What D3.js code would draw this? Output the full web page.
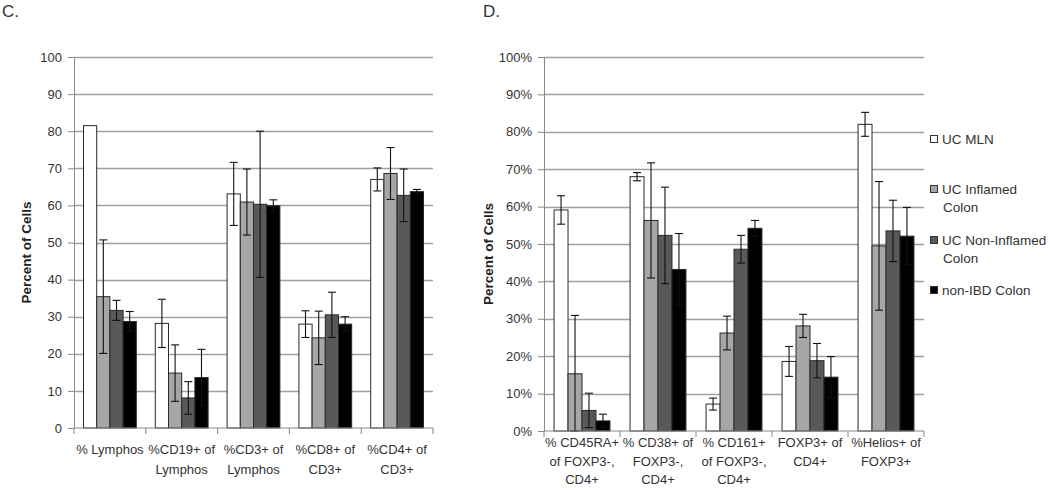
<!DOCTYPE html>
<html>
<head>
<meta charset="utf-8">
<script src="https://cdn.jsdelivr.net/npm/d3@7"></script>
<style>
  body { margin: 0; background: #fff; }
  text { font-family: "Liberation Sans", Arial, sans-serif; fill: #222; }
</style>
</head>
<body>
<div id="chart"></div>
<script>
// series (same four in both panels)
const seriesNames = ['UC MLN', 'UC Inflamed Colon', 'UC Non-Inflamed Colon', 'non-IBD Colon'];
const seriesColors = ['#ffffff', '#a6a6a6', '#595959', '#000000'];
const legendLines = [['UC MLN'], ['UC Inflamed', 'Colon'], ['UC Non-Inflamed', 'Colon'], ['non-IBD Colon']];

// panel C
const cCategories = ['% Lymphos', '%CD19+ of\nLymphos', '%CD3+ of\nLymphos', '%CD8+ of\nCD3+', '%CD4+ of\nCD3+'];
const cMln = [81.5, 28.2, 63.1, 28.0, 67.0];
const cInfl = [35.4, 14.8, 60.9, 24.3, 68.6];
const cNonInfl = [31.7, 8.1, 60.3, 30.5, 62.7];
const cNonIbd = [28.7, 13.6, 59.9, 28.0, 63.7];
const cMlnErr = [null, 6.5, 8.5, 3.6, 3.1];
const cInflErr = [15.3, 7.6, 8.9, 7.2, 7.0];
const cNonInflErr = [2.7, 4.4, 19.7, 6.1, 7.1];
const cNonIbdErr = [2.7, 7.6, 1.6, 2.0, 0.6];
const cTicks = [0, 10, 20, 30, 40, 50, 60, 70, 80, 90, 100];

// panel D
const dCategories = ['% CD45RA+\nof FOXP3-,\nCD4+', '% CD38+ of\nFOXP3-,\nCD4+', '% CD161+\nof FOXP3-,\nCD4+', 'FOXP3+ of\nCD4+', '%Helios+ of\nFOXP3+'];
const dMln = [59.1, 68.0, 7.2, 18.6, 82.0];
const dInfl = [15.3, 56.3, 26.2, 28.1, 49.5];
const dNonInfl = [5.5, 52.3, 48.6, 18.8, 53.5];
const dNonIbd = [2.7, 43.2, 54.2, 14.4, 52.1];
const dMlnErr = [3.8, 1.1, 1.6, 4.0, 3.2];
const dInflErr = [15.6, 15.4, 4.5, 3.1, 17.2];
const dNonInflErr = [4.6, 12.9, 3.7, 4.6, 8.2];
const dNonIbdErr = [1.8, 9.6, 2.1, 5.5, 7.7];
const dTicks = [0, 10, 20, 30, 40, 50, 60, 70, 80, 90, 100];

const width = 1050, height = 493;

const svg = d3.select('#chart')
    .append('svg')
    .attr('width', width)
    .attr('height', height);

function drawPanel(p) {
    const g = svg.append('g');

    const y = d3.scaleLinear().domain([0, 100]).range([p.bottom, p.top]);
    const x0 = d3.scaleBand().domain(d3.range(p.categories.length)).range([p.left, p.right]);
    const x1 = d3.scaleBand().domain(d3.range(seriesNames.length))
        .range([0, x0.bandwidth()]).paddingInner(0).paddingOuter(0.72);

    // gridlines
    g.append('g')
        .selectAll('line')
        .data(p.ticks.filter(t => t > 0))
        .enter()
        .append('line')
        .attr('x1', p.left)
        .attr('x2', p.right)
        .attr('y1', d => Math.round(y(d)) + 0.5)
        .attr('y2', d => Math.round(y(d)) + 0.5)
        .attr('stroke', '#a0a0a0')
        .attr('stroke-width', 1.3);

    // build rows: one per category, one entry per series
    const rows = p.categories.map((c, i) => p.values.map((s, j) => ({
        cat: i, ser: j, value: s[i], err: p.errors[j][i]
    })));

    const groups = g.selectAll('.cat')
        .data(rows)
        .enter()
        .append('g')
        .attr('transform', (_, i) => `translate(${x0(i)},0)`);

    groups.selectAll('rect')
        .data(d => d)
        .enter()
        .append('rect')
        .attr('x', d => x1(d.ser))
        .attr('y', d => y(d.value))
        .attr('width', x1.bandwidth())
        .attr('height', d => y(0) - y(d.value))
        .style('fill', d => seriesColors[d.ser])
        .style('stroke', '#2a2a2a')
        .style('stroke-width', 1);

    // error bars
    const eb = groups.selectAll('.err')
        .data(d => d.filter(e => e.err != null))
        .enter()
        .append('g')
        .attr('stroke', '#111')
        .attr('stroke-width', 1.1);
    const cx = d => x1(d.ser) + x1.bandwidth() / 2;
    eb.append('line')
        .attr('x1', cx).attr('x2', cx)
        .attr('y1', d => y(d.value + d.err))
        .attr('y2', d => y(Math.max(0, d.value - d.err)));
    eb.append('line')
        .attr('x1', d => cx(d) - 4).attr('x2', d => cx(d) + 4)
        .attr('y1', d => y(d.value + d.err)).attr('y2', d => y(d.value + d.err));
    eb.append('line')
        .attr('x1', d => cx(d) - 4).attr('x2', d => cx(d) + 4)
        .attr('y1', d => y(Math.max(0, d.value - d.err))).attr('y2', d => y(Math.max(0, d.value - d.err)));

    // y axis
    const yAxis = g.append('g')
        .attr('transform', `translate(${p.left},0)`)
        .call(d3.axisLeft(y).tickValues(p.ticks).tickSize(6).tickPadding(6).tickFormat(p.format));
    yAxis.select('.domain').attr('stroke', '#888');
    yAxis.selectAll('.tick line').attr('stroke', '#888');
    yAxis.selectAll('.tick text').attr('font-size', 13).style('fill', '#333');

    // x axis
    const xAxis = g.append('g')
        .attr('transform', `translate(0,${p.bottom})`);
    xAxis.append('line')
        .attr('x1', p.left).attr('x2', p.right)
        .attr('stroke', '#888');
    xAxis.selectAll('.xt')
        .data(d3.range(p.categories.length + 1))
        .enter()
        .append('line')
        .attr('x1', i => i < p.categories.length ? x0(i) : p.right)
        .attr('x2', i => i < p.categories.length ? x0(i) : p.right)
        .attr('y1', 0).attr('y2', 6)
        .attr('stroke', '#888');

    const labels = xAxis.selectAll('.xl')
        .data(p.categories)
        .enter()
        .append('text')
        .attr('text-anchor', 'middle')
        .attr('font-size', 13)
        .style('fill', '#333')
        .attr('transform', (_, i) => `translate(${x0(i) + x0.bandwidth() / 2},0)`);
    labels.selectAll('tspan')
        .data(d => d.split('\n'))
        .enter()
        .append('tspan')
        .attr('x', 0)
        .attr('y', (_, k) => p.labelY + k * p.labelStep)
        .attr('dominant-baseline', 'central')
        .text(d => d);

    // y title
    g.append('text')
        .attr('transform', `translate(${p.titleX},${(p.top + p.bottom) / 2 + 10}) rotate(-90)`)
        .attr('text-anchor', 'middle')
        .attr('dominant-baseline', 'central')
        .attr('font-size', 13.5)
        .attr('font-weight', 'bold')
        .text('Percent of Cells');

    // panel letter
    g.append('text')
        .attr('x', p.letterX)
        .attr('y', 17)
        .attr('font-size', 17)
        .style('fill', '#333')
        .text(p.letter);
}

drawPanel({
    letter: 'C.', letterX: 2,
    categories: cCategories,
    values: [cMln, cInfl, cNonInfl, cNonIbd],
    errors: [cMlnErr, cInflErr, cNonInflErr, cNonIbdErr],
    ticks: cTicks, format: d => d,
    left: 74, right: 433, top: 57, bottom: 428,
    labelY: 21, labelStep: 20, titleX: 26
});

drawPanel({
    letter: 'D.', letterX: 483,
    categories: dCategories,
    values: [dMln, dInfl, dNonInfl, dNonIbd],
    errors: [dMlnErr, dInflErr, dNonInflErr, dNonIbdErr],
    ticks: dTicks, format: d => d + '%',
    left: 544, right: 924, top: 57, bottom: 431,
    labelY: 11.5, labelStep: 18.5, titleX: 488
});

// legend
const legendY = [139, 189, 240, 290];
const legend = svg.append('g')
    .selectAll('g')
    .data(seriesNames)
    .enter()
    .append('g')
    .attr('transform', (_, i) => `translate(930,${legendY[i]})`);
legend.append('rect')
    .attr('x', 0.5).attr('y', -3.5)
    .attr('width', 7).attr('height', 7)
    .style('fill', (_, i) => seriesColors[i])
    .style('stroke', '#333')
    .style('stroke-width', 1);
legend.append('text')
    .attr('font-size', 13.5)
    .style('fill', '#333')
    .selectAll('tspan')
    .data((_, i) => legendLines[i])
    .enter()
    .append('tspan')
    .attr('x', (_, k) => k === 0 ? 12 : 13)
    .attr('y', (_, k) => k * 18.5)
    .attr('dominant-baseline', 'central')
    .text(d => d);
</script>
</body>
</html>
